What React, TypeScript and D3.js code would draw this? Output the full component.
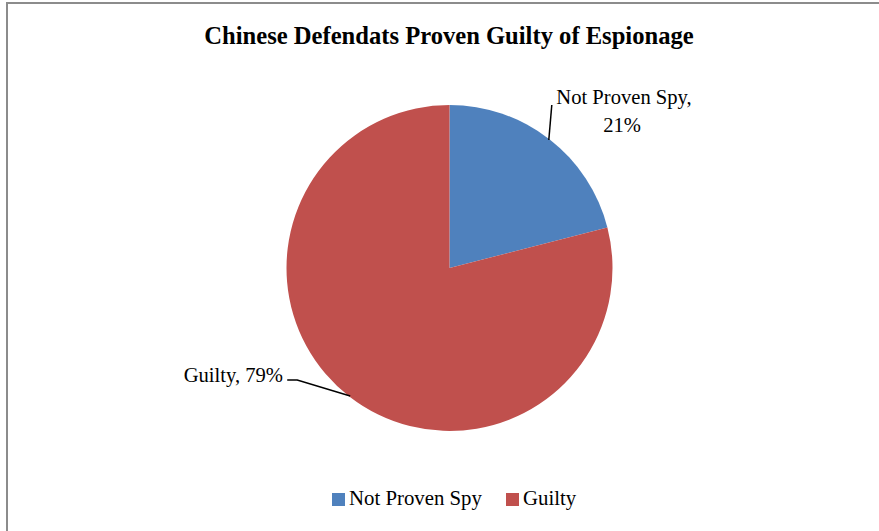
import React from "react";
import * as d3 from "d3";

const categories = ["Not Proven Spy", "Guilty"];
const values = [21, 79];
const colors = ["#4F81BD", "#C0504D"];
const title = "Chinese Defendats Proven Guilty of Espionage";

const W = 879;
const H = 531;
const cx = 449.5;
const cy = 268;
const R = 163;
const FONT = "'Liberation Serif', 'Times New Roman', serif";

export default function App() {
  const total = d3.sum(values);
  const pie = d3.pie<number>().sort(null).value((d) => d).startAngle(0).endAngle(2 * Math.PI);
  const arcs = pie(values);
  const arc = d3.arc<d3.PieArcDatum<number>>().innerRadius(0).outerRadius(R);
  const fmt = (v: number) => `${Math.round((v / total) * 100)}%`;

  const edge = (a: d3.PieArcDatum<number>) => {
    const m = (a.startAngle + a.endAngle) / 2;
    return [Math.sin(m) * (R - 1), -Math.cos(m) * (R - 1)];
  };
  const e0 = edge(arcs[0]);
  const e1 = edge(arcs[1]);

  return (
    <svg width={W} height={H} style={{ position: "absolute", left: 0, top: 0, background: "#fff" }} fontFamily={FONT}>
      <rect x={7} y={3} width={W + 10} height={H + 10} fill="#fff" stroke="#8c8c8c" strokeWidth={2} />
      <text x={449} y={44} textAnchor="middle" fontSize={24.6} fontWeight="bold" fill="#000">
        {title}
      </text>
      <g transform={`translate(${cx},${cy})`}>
        {arcs.map((a, i) => (
          <path key={i} d={arc(a) || ""} fill={colors[i]} />
        ))}
        <path d={`M${e0[0]},${e0[1]}L${e0[0] + 3},${e0[1] - 35}`} stroke="#000" strokeWidth={1.5} fill="none" />
        <path d={`M${e1[0]},${e1[1]}L${e1[0] - 53},${e1[1] - 16}L${e1[0] - 63},${e1[1] - 16}`} stroke="#000" strokeWidth={1.5} fill="none" />
      </g>
      <text fontSize={20.6} fill="#000" textAnchor="middle">
        <tspan x={624} y={104}>{categories[0]},</tspan>
        <tspan x={622} y={132}>{fmt(values[0])}</tspan>
      </text>
      <text x={283} y={382} fontSize={20.6} fill="#000" textAnchor="end">
        {categories[1]}, {fmt(values[1])}
      </text>
      <g fontSize={20.8} fill="#000">
        <rect x={332} y={493} width={13} height={13} fill={colors[0]} />
        <text x={349} y={505}>{categories[0]}</text>
        <rect x={506} y={493} width={13} height={13} fill={colors[1]} />
        <text x={523} y={505}>{categories[1]}</text>
      </g>
    </svg>
  );
}
